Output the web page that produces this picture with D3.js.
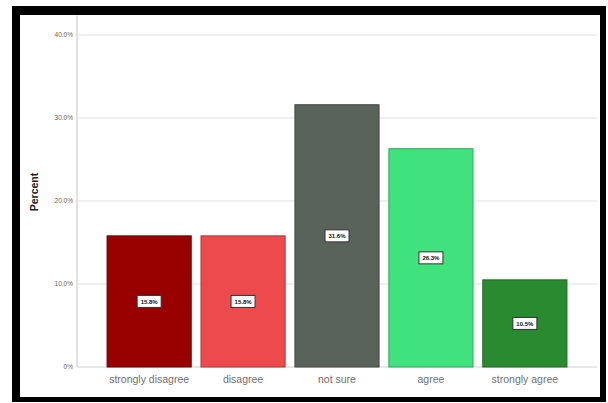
<!DOCTYPE html>
<html>
  <head>
    <title>Percent by response</title>
    <script src="https://d3js.org/d3.v7.min.js"></script>
    <style>
      body { margin: 0; background: #fff; }
    </style>
  </head>
  <body>
    <div id="chart"></div>
    <script>
      var categories = ["strongly disagree", "disagree", "not sure", "agree", "strongly agree"];
      var percents = [15.8, 15.8, 31.6, 26.3, 10.5];
      var colors = ["#990000", "#ec4a4c", "#59635b", "#3fe27c", "#2a8a2f"];
      var yTicks = [0, 10, 20, 30, 40];
      var yTickLabels = ["0%", "10.0%", "20.0%", "30.0%", "40.0%"];

      var width = 608, height = 403;

      var svg = d3.select('#chart')
        .append('svg')
        .attr('width', width)
        .attr('height', height);

      // frame, thick black on left and top
      svg.append('rect')
        .attr('x', 12).attr('y', 6)
        .attr('width', 594).attr('height', 396)
        .attr('fill', '#000');
      svg.append('rect')
        .attr('x', 20).attr('y', 15)
        .attr('width', 580).attr('height', 382)
        .attr('fill', '#fff');

      var x = d3.scaleBand()
        .domain(categories)
        .range([77, 597])
        .paddingInner(0.104)
        .paddingOuter(0.32);

      var y = d3.scaleLinear()
        .domain([0, 40])
        .range([367, 35]);

      // gridlines
      svg.append('g')
        .selectAll('line')
        .data(yTicks.slice(1))
        .enter().append('line')
        .attr('x1', 77).attr('x2', 597)
        .attr('y1', function (d) { return y(d); })
        .attr('y2', function (d) { return y(d); })
        .attr('stroke', '#e2e2e2')
        .attr('stroke-width', 1.2);

      // y axis line and baseline
      svg.append('line')
        .attr('x1', 77).attr('x2', 77)
        .attr('y1', 15).attr('y2', 367)
        .attr('stroke', '#cfcfcf').attr('stroke-width', 1.2);
      svg.append('line')
        .attr('x1', 77).attr('x2', 597)
        .attr('y1', 367).attr('y2', 367)
        .attr('stroke', '#cfcfcf').attr('stroke-width', 1.2);

      // y tick labels
      svg.append('g')
        .selectAll('text')
        .data(yTicks)
        .enter().append('text')
        .attr('x', 73)
        .attr('y', function (d) { return y(d); })
        .attr('dy', '0.35em')
        .attr('text-anchor', 'end')
        .style('font-family', 'Arial, "Liberation Sans", sans-serif')
        .style('font-size', '6.5px')
        .style('fill', '#666')
        .text(function (d, i) { return yTickLabels[i]; });

      svg.append('text')
        .attr('transform', 'translate(38,192) rotate(-90)')
        .attr('text-anchor', 'middle')
        .style('font-family', 'Arial, "Liberation Sans", sans-serif')
        .style('font-size', '10.5px')
        .style('font-weight', 'bold')
        .style('fill', '#222')
        .text('Percent');

      // bars
      svg.append('g')
        .selectAll('rect')
        .data(percents)
        .enter().append('rect')
        .attr('x', function (d, i) { return x(categories[i]); })
        .attr('y', function (d) { return y(d); })
        .attr('width', x.bandwidth())
        .attr('height', function (d) { return y(0) - y(d); })
        .attr('fill', function (d, i) { return colors[i]; })
        .attr('stroke', function (d, i) { return d3.color(colors[i]).darker(0.8); })
        .attr('stroke-width', 1);

      // value labels in white boxes
      var labels = svg.append('g')
        .selectAll('g')
        .data(percents)
        .enter().append('g')
        .attr('transform', function (d, i) {
          return 'translate(' + (x(categories[i]) + x.bandwidth() / 2) + ',' + ((y(d) + y(0)) / 2) + ')';
        });
      labels.append('rect')
        .attr('x', -12).attr('y', -6)
        .attr('width', 24).attr('height', 12)
        .attr('fill', '#fff')
        .attr('stroke', '#333')
        .attr('stroke-width', 1);
      labels.append('text')
        .attr('text-anchor', 'middle')
        .attr('dy', '0.35em')
        .style('font-family', 'Arial, "Liberation Sans", sans-serif')
        .style('font-size', '6px')
        .style('font-weight', 'bold')
        .style('fill', '#111')
        .text(function (d) { return d.toFixed(1) + '%'; });

      // x labels
      svg.append('g')
        .selectAll('text')
        .data(categories)
        .enter().append('text')
        .attr('x', function (d) { return x(d) + x.bandwidth() / 2; })
        .attr('y', 383)
        .attr('text-anchor', 'middle')
        .style('font-family', '"Liberation Sans Narrow", Arial, sans-serif')
        .style('font-size', '10.5px')
        .style('fill', '#707070')
        .text(function (d) { return d; });
    </script>
  </body>
</html>
